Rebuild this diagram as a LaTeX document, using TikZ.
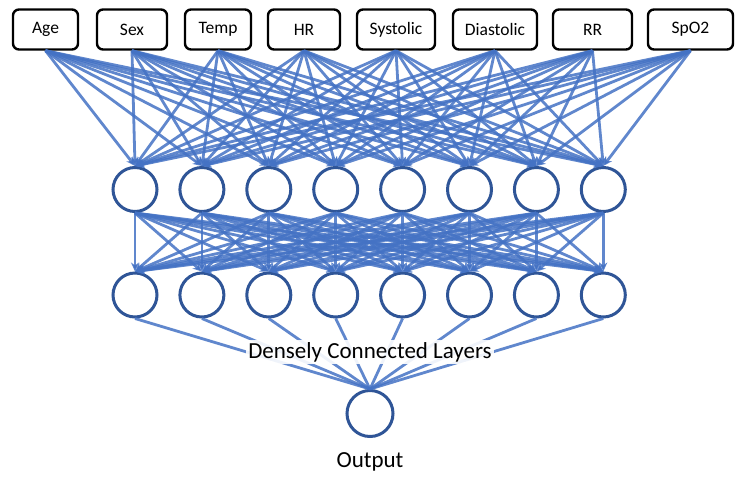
\documentclass[tikz,border=0pt]{standalone}
\usepackage{fontspec}
\setmainfont{Carlito}
\usetikzlibrary{arrows.meta}
\definecolor{linkblue}{HTML}{4472C4}
\definecolor{ringblue}{HTML}{2F5597}
\begin{document}
\begin{tikzpicture}[x=1pt,y=-1pt,
 inbox/.style={draw=black, line width=2.4pt, rounded corners=6pt, minimum height=40pt, inner sep=0pt, font=\fontsize{17.5}{20}\selectfont, fill=white},
 neuron/.style={circle, draw=ringblue, line width=3pt, minimum size=44pt, inner sep=0pt, fill=white},
 link/.style={draw=linkblue, line width=2.8pt, draw opacity=0.85},
 arrowlink/.style={link, -{Stealth[length=9pt,width=8pt]}},
 biglabel/.style={font=\fontsize{23}{26}\selectfont, inner sep=2pt}
]
\useasboundingbox (0,0) rectangle (735,477);
% input boxes
\foreach \i/\t/\x/\w in {1/Age/45.5/65, 2/Sex/132/70, 3/Temp/218/66, 4/HR/304/72, 5/Systolic/396/78, 6/Diastolic/495/84, 7/RR/592.5/79, 8/SpO2/690.5/85}
  \node[inbox, minimum width=\w pt] (in\i) at (\x,29.5) {\t};
% hidden layers
\foreach \i in {1,...,8} {
  \node[neuron] (h\i) at ({135+66.9*(\i-1)},189.5) {};
  \node[neuron] (g\i) at ({135+66.9*(\i-1)},295) {};
}
\node[neuron, minimum size=46pt] (out) at (370,413.5) {};
% connections
\foreach \i in {1,...,8} {
  \foreach \j in {1,...,8} {
    \draw[arrowlink] (in\i.south) -- (h\j.north);
    \draw[arrowlink] (h\i.south) -- (g\j.north);
  }
  \draw[link] (g\i.south) -- (out.north);
}
\node[biglabel, fill=white, fill opacity=0.9, text opacity=1] (dcl) at (370,352) {Densely Connected Layers};
\node[biglabel] (outlabel) at (370,462) {Output};
\end{tikzpicture}
\end{document}
